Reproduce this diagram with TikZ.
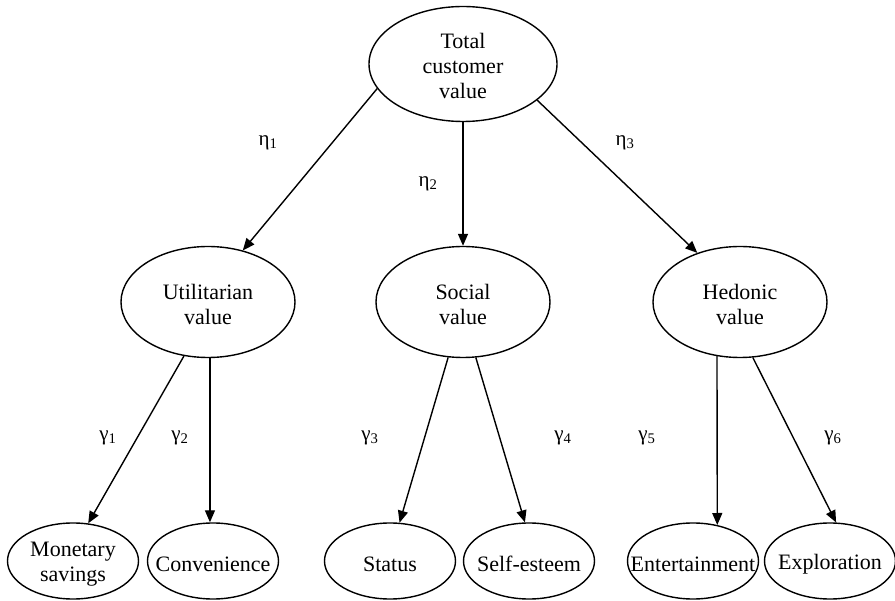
\documentclass[tikz,border=0pt]{standalone}
\usepackage{fontspec}
\setmainfont{Liberation Serif}
\usetikzlibrary{shapes.geometric,arrows.meta}
\begin{document}
\begin{tikzpicture}[x=1pt,y=-1pt,
  ell/.style 2 args={draw,ellipse,line width=1.4pt,minimum width=#1,minimum height=#2,inner sep=0pt},
  bigell/.style={ell={188pt}{115pt}},
  midell/.style={ell={174pt}{111pt}},
  leafell/.style={ell={131pt}{76pt}},
  txt/.style={align=center,font=\fontsize{22}{25}\selectfont,inner sep=0pt},
  lbl/.style={font=\fontsize{21}{24}\selectfont,inner sep=0pt},
  arr/.style={line width=1.4pt,-{Triangle[length=12pt,width=10pt]}}]
\useasboundingbox (0,0) rectangle (895,601);

% nodes
\node[bigell] (T) at (463,64) {};
\node[txt] (Tt) at (463,66) {Total\\customer\\value};

\node[midell] (U) at (208,302) {};
\node[txt] (Ut) at (208,304) {Utilitarian\\value};
\node[midell] (S) at (463,302) {};
\node[txt] (St) at (463,304) {Social\\value};
\node[midell] (H) at (740,302) {};
\node[txt] (Ht) at (740,304) {Hedonic\\value};

\node[leafell] (M) at (73,561) {};
\node[txt] (Mt) at (73,564) {Monetary\\savings};
\node[leafell] (C) at (213,561) {};
\node[txt] (Ct) at (213,564) {Convenience};
\node[leafell] (Sa) at (390,561) {};
\node[txt] (Sat) at (390,564) {Status};
\node[leafell] (SE) at (529,561) {};
\node[txt] (SEt) at (529,564) {Self-esteem};
\node[leafell] (E) at (693,561) {};
\node[txt] (Et) at (693,564) {Entertainment};
\node[leafell] (X) at (830,561) {};
\node[txt] (Xt) at (830,564) {Exploration};

% connectors
\draw[arr] (T.196) -- (U.56);
\draw[arr] (T.south) -- (S.north);
\draw[arr] (T.-26) -- (H.131);

\draw[arr] (U.-114) -- (M.68);
\draw[arr] (U.-88) -- (U.-88 |- C.north);
\draw[arr] (S.-105) -- (Sa.76);
\draw[arr] (S.-77) -- (SE.96);
\draw[arr] (H.-113) -- (E.56);
\draw[arr] (H.-77) -- (X.81);

% labels
\node[lbl] (l1) at (268,143) {η\textsubscript{1}};
\node[lbl] (l2) at (428,184) {η\textsubscript{2}};
\node[lbl] (l3) at (625,143) {η\textsubscript{3}};
\node[lbl] (g1) at (108,438) {γ\textsubscript{1}};
\node[lbl] (g2) at (180,438) {γ\textsubscript{2}};
\node[lbl] (g3) at (370,438) {γ\textsubscript{3}};
\node[lbl] (g4) at (563,438) {γ\textsubscript{4}};
\node[lbl] (g5) at (647,438) {γ\textsubscript{5}};
\node[lbl] (g6) at (833,438) {γ\textsubscript{6}};
\end{tikzpicture}
\end{document}
